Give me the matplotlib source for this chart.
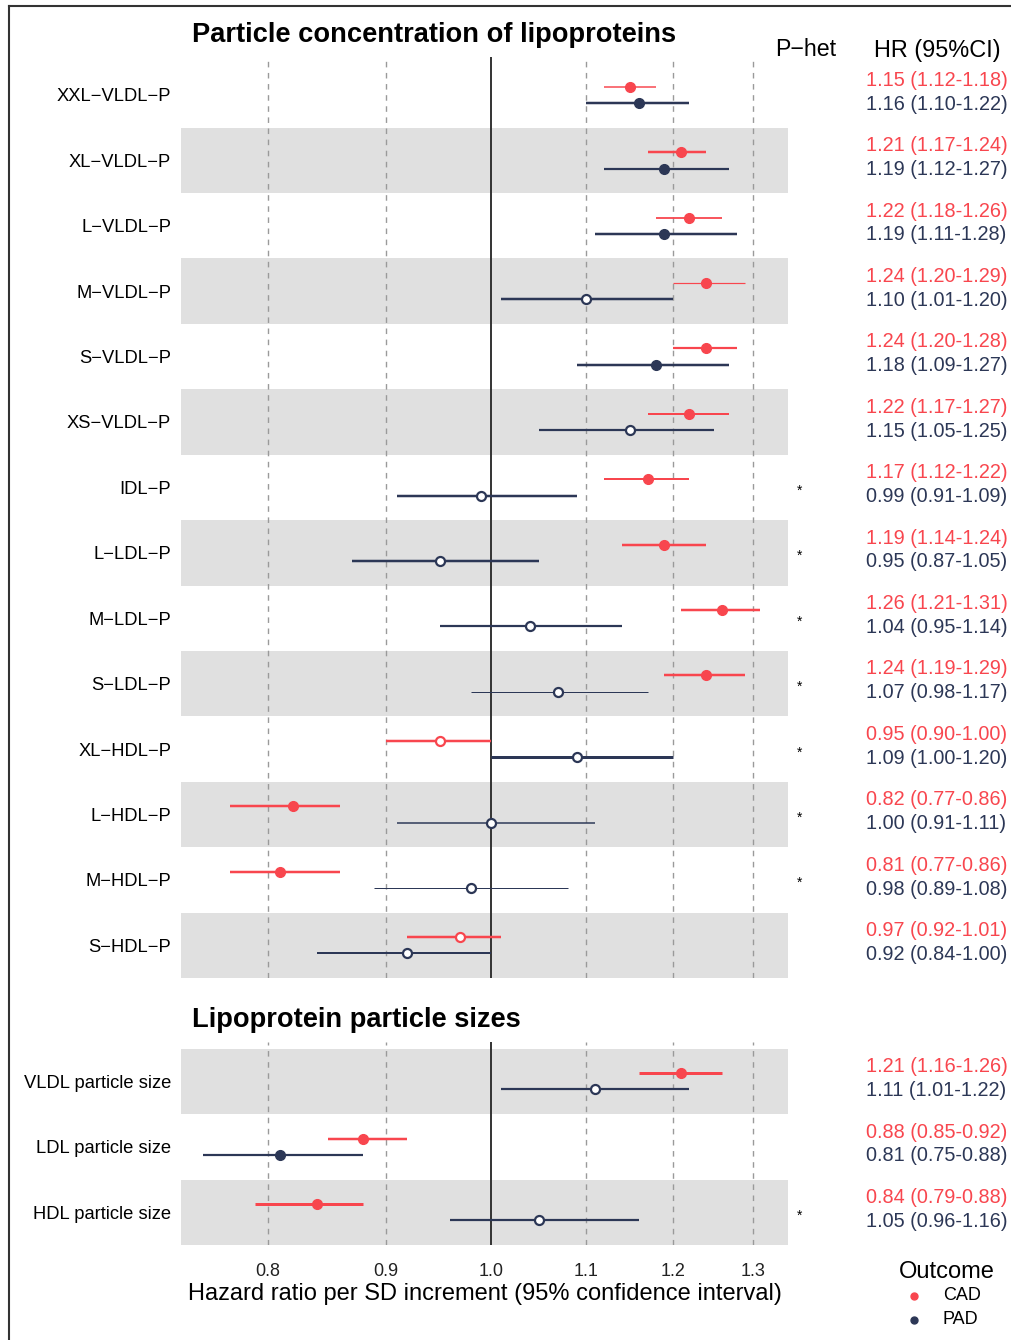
import matplotlib
matplotlib.use("Agg")
from matplotlib import pyplot as plt
from matplotlib import transforms
from matplotlib.lines import Line2D

plt.rcParams['font.family'] = ['Liberation Sans', 'DejaVu Sans']

# Дані: HR (95% CI) для CAD та PAD
conc_names = ["XXL-VLDL-P", "XL-VLDL-P", "L-VLDL-P", "M-VLDL-P", "S-VLDL-P", "XS-VLDL-P",
              "IDL-P", "L-LDL-P", "M-LDL-P", "S-LDL-P", "XL-HDL-P", "L-HDL-P", "M-HDL-P", "S-HDL-P"]
conc_cad_hr = [1.15, 1.21, 1.22, 1.24, 1.24, 1.22, 1.17, 1.19, 1.26, 1.24, 0.95, 0.82, 0.81, 0.97]
conc_cad_lo = [1.12, 1.17, 1.18, 1.20, 1.20, 1.17, 1.12, 1.14, 1.21, 1.19, 0.90, 0.77, 0.77, 0.92]
conc_cad_hi = [1.18, 1.24, 1.26, 1.29, 1.28, 1.27, 1.22, 1.24, 1.31, 1.29, 1.00, 0.86, 0.86, 1.01]
conc_pad_hr = [1.16, 1.19, 1.19, 1.10, 1.18, 1.15, 0.99, 0.95, 1.04, 1.07, 1.09, 1.00, 0.98, 0.92]
conc_pad_lo = [1.10, 1.12, 1.11, 1.01, 1.09, 1.05, 0.91, 0.87, 0.95, 0.98, 1.00, 0.91, 0.89, 0.84]
conc_pad_hi = [1.22, 1.27, 1.28, 1.20, 1.27, 1.25, 1.09, 1.05, 1.14, 1.17, 1.20, 1.11, 1.08, 1.00]
conc_cad_sig = [1, 1, 1, 1, 1, 1, 1, 1, 1, 1, 0, 1, 1, 0]
conc_pad_sig = [1, 1, 1, 0, 1, 0, 0, 0, 0, 0, 0, 0, 0, 0]
conc_phet = [0, 0, 0, 0, 0, 0, 1, 1, 1, 1, 1, 1, 1, 0]

size_names = ["VLDL particle size", "LDL particle size", "HDL particle size"]
size_cad_hr = [1.21, 0.88, 0.84]
size_cad_lo = [1.16, 0.85, 0.79]
size_cad_hi = [1.26, 0.92, 0.88]
size_pad_hr = [1.11, 0.81, 1.05]
size_pad_lo = [1.01, 0.75, 0.96]
size_pad_hi = [1.22, 0.88, 1.16]
size_cad_sig = [1, 1, 1]
size_pad_sig = [0, 1, 0]
size_phet = [0, 0, 1]

ticks = [0.8, 0.9, 1.0, 1.1, 1.2, 1.3]

# товщина ліній довірчих інтервалів (px)
conc_cad_lw = [1.5, 2.5, 1.8, 1.2, 2.2, 2.0, 2.0, 2.5, 2.5, 2.5, 2.5, 2.5, 2.5, 2.5]
conc_pad_lw = [2.5, 2.2, 2.5, 2.5, 2.5, 2.2, 2.5, 2.5, 2.2, 1.0, 3.0, 1.5, 1.0, 2.0]
size_cad_lw = [3.0, 2.5, 3.0]
size_pad_lw = [2.2, 2.2, 2.2]

RED = "#F8464E"
NAVY = "#2C3756"
BAND = "#E0E0E0"

W, H = 1011, 1340
fig = plt.figure(figsize=(W / 100, H / 100), dpi=100)


def fx(px):
    return px / W


def fy(py):
    return 1 - py / H


def panel(ax, names, cad, pad, phet, band_start):
    n = len(names)
    for i in range(n):
        if i % 2 == band_start:
            ax.axhspan(i - 0.5, i + 0.5, color=BAND, lw=0, zorder=0)
    for t in ticks:
        if t == 1.0:
            ax.axvline(t, color="#333333", lw=1.4, zorder=1)
        else:
            ax.axvline(t, color="#9A9A9A", lw=1.0, ls=(0, (4, 4)), zorder=1)
    for (hr, lo, hi, sig, lw, col, off) in [cad + (RED, -0.125), pad + (NAVY, 0.125)]:
        for i in range(n):
            y = i + off
            ax.plot([lo[i], hi[i]], [y, y], color=col, lw=lw[i] * 0.72, solid_capstyle='butt', zorder=2)
            if sig[i]:
                ax.plot(hr[i], y, 'o', color=col, ms=7, zorder=3)
            else:
                ax.plot(hr[i], y, 'o', mfc='white', mec=col, mew=1.6, ms=6.5, zorder=3)
    ax.set_xscale('log')
    ax.set_xlim(0.7333, 1.3467)
    ax.set_yticks(range(n))
    ax.set_yticklabels([s.replace("-", "\u2212") for s in names], fontsize=13.2)
    ax.tick_params(axis='y', length=0, pad=7)
    for sp in ax.spines.values():
        sp.set_visible(False)
    ax.minorticks_off()

    tr = transforms.blended_transform_factory(fig.transFigure, ax.transData)
    for i in range(n):
        ax.text(fx(866), i - 0.225, f"{cad[0][i]:.2f} ({cad[1][i]:.2f}-{cad[2][i]:.2f})",
                color=RED, fontsize=14.3, va='center', ha='left', transform=tr)
        ax.text(fx(866), i + 0.14, f"{pad[0][i]:.2f} ({pad[1][i]:.2f}-{pad[2][i]:.2f})",
                color=NAVY, fontsize=14.3, va='center', ha='left', transform=tr)
        if phet[i]:
            ax.text(fx(800), i + 0.05, "*", fontsize=10, va='center', ha='center', transform=tr)


# Верхня панель
ax1 = fig.add_axes([fx(181), fy(978), fx(788 - 181), (978 - 57) / H])
panel(ax1, conc_names,
      (conc_cad_hr, conc_cad_lo, conc_cad_hi, conc_cad_sig, conc_cad_lw),
      (conc_pad_hr, conc_pad_lo, conc_pad_hi, conc_pad_sig, conc_pad_lw),
      conc_phet, 1)
ax1.set_ylim(len(conc_names) - 0.5, -0.58)
ax1.set_xticks([])

# Нижня панель
ax2 = fig.add_axes([fx(181), fy(1245), fx(788 - 181), (1245 - 1042) / H])
panel(ax2, size_names,
      (size_cad_hr, size_cad_lo, size_cad_hi, size_cad_sig, size_cad_lw),
      (size_pad_hr, size_pad_lo, size_pad_hi, size_pad_sig, size_pad_lw),
      size_phet, 0)
ax2.set_ylim(len(size_names) - 0.5, -0.6)
ax2.set_xticks(ticks)
ax2.set_xticklabels([f"{t:.1f}" for t in ticks], fontsize=13, color="#222222")
ax2.tick_params(axis='x', length=0, pad=13)
ax2.set_xlabel("Hazard ratio per SD increment (95% confidence interval)", fontsize=17, labelpad=2)

# Заголовки
fig.text(fx(192), fy(35), "Particle concentration of lipoproteins", fontsize=19.6, weight='bold', va='center')
fig.text(fx(192), fy(1020), "Lipoprotein particle sizes", fontsize=19.6, weight='bold', va='center')
fig.text(fx(806), fy(49), "P\u2212het", fontsize=16.7, va='center', ha='center')
fig.text(fx(937), fy(50), "HR (95%CI)", fontsize=16.9, va='center', ha='center')

# Легенда
fig.text(fx(947), fy(1272), "Outcome", fontsize=17, va='center', ha='center')
for label, col, py in [("CAD", RED, 1296), ("PAD", NAVY, 1320)]:
    fig.add_artist(Line2D([fx(914)], [fy(py)], marker='o', color=col, ms=5, ls='none'))
    fig.text(fx(943), fy(py), label, fontsize=13, va='center', ha='left')

# Рамка
fig.add_artist(Line2D([fx(9), fx(9)], [0, fy(6)], color="#333333", lw=1.5))
fig.add_artist(Line2D([fx(9), 1], [fy(6), fy(6)], color="#333333", lw=1.5))

plt.savefig('out.png', dpi=100)
